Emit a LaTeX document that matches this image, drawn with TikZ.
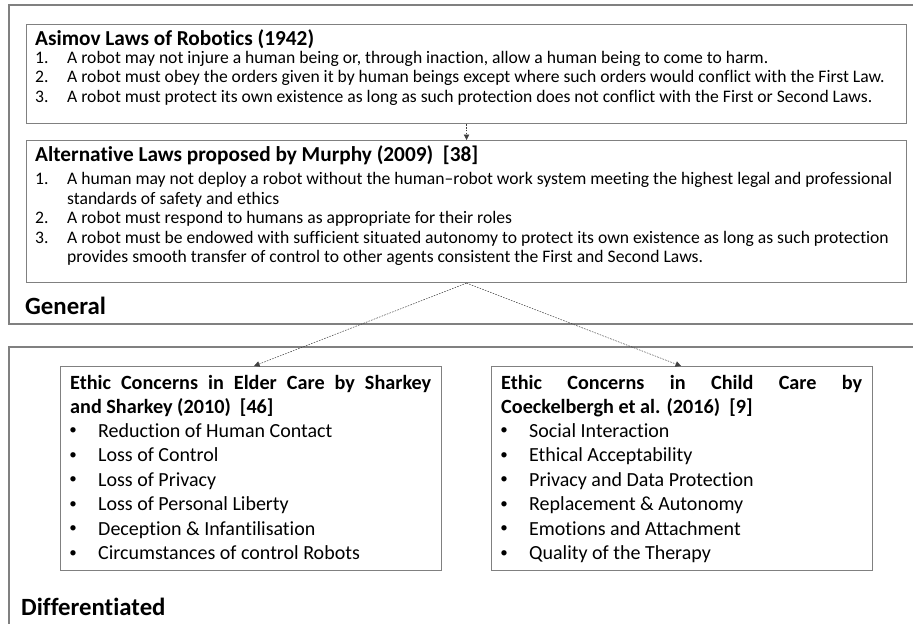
\documentclass[tikz,border=0pt]{standalone}
\usepackage{fontspec}
\setmainfont{Carlito}[Ligatures=NoCommon]
\usetikzlibrary{arrows.meta}
\begin{document}
\begin{tikzpicture}[x=1pt,y=-1pt,
  frame/.style={draw=black!50, line width=1.1pt},
  box/.style={draw=black!50, line width=1.1pt, inner sep=0, anchor=north west},
  txt/.style={anchor=base west, inner sep=0, font=\fontsize{17.6}{19}\selectfont},
  ttl/.style={anchor=base west, inner sep=0, font=\fontsize{21.3}{24}\selectfont\bfseries},
  btxt/.style={anchor=base west, inner sep=0, font=\fontsize{20}{24}\selectfont},
  bul/.style={anchor=center, inner sep=0, font=\fontsize{15}{15}\selectfont},
  bttl/.style={anchor=base west, inner sep=0, font=\fontsize{20.2}{24}\selectfont\bfseries},
  sect/.style={anchor=base west, inner sep=0, font=\fontsize{24.8}{29}\selectfont\bfseries},
  conn/.style={draw=black!75, line width=0.5pt, dash pattern=on 1.6pt off 1.2pt,
    -{Triangle[length=5.5pt,width=5.5pt]}}
]
\useasboundingbox (0,0) rectangle (913,624);
% outer frames
\draw[frame] (913,5) -- (9,5) -- (9,324) -- (913,324);
\draw[frame] (913,347) -- (9,347) -- (9,624);

% boxes
\node[box, minimum width=880pt, minimum height=99pt] (asimov) at (26,24) {};
\node[box, minimum width=880pt, minimum height=142pt] (murphy) at (26,140) {};
\node[box, minimum width=381pt, minimum height=204pt] (elder) at (60,366) {};
\node[box, minimum width=381pt, minimum height=204pt] (child) at (491,366) {};

% Asimov
\node[ttl] (at) at (35,45) {Asimov Laws of Robotics (1942)};
\node[txt] (a1n) at (35,63.3) {1.};
\node[txt] (a1) at (67,63.3) {A robot may not injure a human being or, through inaction, allow a human being to come to harm.};
\node[txt] (a2n) at (35,82.7) {2.};
\node[txt] (a2) at (67,82.7) {A robot must obey the orders given it by human beings except where such orders would conflict with the First Law.};
\node[txt] (a3n) at (35,102) {3.};
\node[txt] (a3) at (67,102) {A robot must protect its own existence as long as such protection does not conflict with the First or Second Laws.};

% Murphy
\node[ttl] (mt) at (35,161.7) {Alternative Laws proposed by Murphy (2009)\ \ [38]};
\node[txt] (m1n) at (35,184.3) {1.};
\node[txt] (m1) at (67,184.3) {A human may not deploy a robot without the human–robot work system meeting the highest legal and professional};
\node[txt] (m1b) at (67,204) {standards of safety and ethics};
\node[txt] (m2n) at (35,223.5) {2.};
\node[txt] (m2) at (67,223.5) {A robot must respond to humans as appropriate for their roles};
\node[txt] (m3n) at (35,243.3) {3.};
\node[txt] (m3) at (67,243.3) {A robot must be endowed with sufficient situated autonomy to protect its own existence as long as such protection};
\node[txt] (m3b) at (67,262.7) {provides smooth transfer of control to other agents consistent the First and Second Laws.};

\node[sect] (gen) at (25,314) {General};

% Elder
\node[bttl] (et1) at (70,389.3) {\makebox[361pt][s]{Ethic Concerns in Elder Care by Sharkey}};
\node[bttl] (et2) at (70,413) {and Sharkey (2010)\ \ [46]};
\foreach \y/\t [count=\i] in {437.3/Reduction of Human Contact, 461.7/Loss of Control, 486/Loss of Privacy, 510.5/Loss of Personal Liberty, 535/Deception \& Infantilisation, 559.5/Circumstances of control Robots}{
  \node[bul] (eb\i) at (73,\y-5.8) {•};
  \node[btxt] (ei\i) at (98,\y) {\t};
}

% Child
\node[bttl] (ct1) at (501,389.3) {\makebox[361pt][s]{Ethic Concerns in Child Care by}};
\node[bttl] (ct2) at (501,413) {Coeckelbergh et al. (2016)\ \ [9]};
\foreach \y/\t [count=\i] in {437.3/Social Interaction, 461.7/Ethical Acceptability, 486/Privacy and Data Protection, 510.5/Replacement \& Autonomy, 535/Emotions and Attachment, 559.5/Quality of the Therapy}{
  \node[bul] (cb\i) at (504,\y-5.8) {•};
  \node[btxt] (ci\i) at (529,\y) {\t};
}

\node[sect] (dif) at (21,615.7) {Differentiated};

% connectors
\draw[conn] (asimov.south) -- (murphy.north);
\draw[conn] (murphy.south) -- ([xshift=3pt]elder.north);
\draw[conn] (murphy.south) -- ([xshift=-1pt]child.north);
\end{tikzpicture}
\end{document}
